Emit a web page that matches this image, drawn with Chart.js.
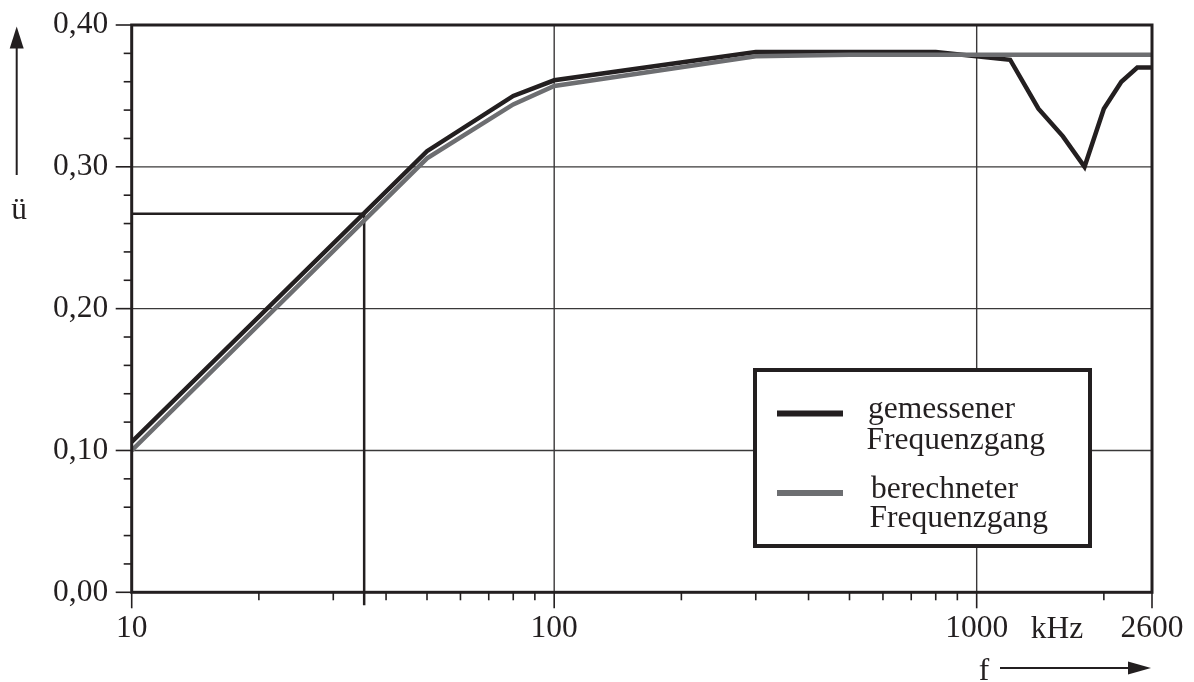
<!DOCTYPE html>
<html>
<head>
<meta charset="utf-8">
<script src="https://cdn.jsdelivr.net/npm/chart.js@4.4.1/dist/chart.umd.min.js"></script>
<style>
  html, body { margin: 0; padding: 0; background: #ffffff; }
  #wrap { width: 1194px; height: 682px; }
</style>
</head>
<body>
<div id="wrap"><canvas id="c" width="1194" height="682"></canvas></div>
<script>
// ---- data ----
const FREQ_MEASURED = [10, 50, 80, 100, 300, 800, 1200, 1400, 1600, 1800, 2000, 2200, 2400, 2600];
const U_MEASURED    = [0.106, 0.311, 0.350, 0.361, 0.381, 0.381, 0.3755, 0.341, 0.3215, 0.300, 0.341, 0.360, 0.370, 0.370];
const FREQ_CALC     = [10, 50, 80, 100, 300, 500, 2600];
const U_CALC        = [0.100, 0.306, 0.344, 0.357, 0.378, 0.379, 0.379];

const LABEL_MEASURED = ['gemessener', 'Frequenzgang'];
const LABEL_CALC     = ['berechneter', 'Frequenzgang'];

// cutoff marker (frequency, ü)
const MARK_F = 35.5;
const MARK_U = 0.267;

// axes
const X_TICK_LABELS = [10, 100, 1000, 2600];
const X_MINOR_TICKS = [20, 30, 40, 50, 60, 70, 80, 90, 200, 300, 400, 500, 600, 700, 800, 900, 2000];
const X_GRID = [100, 1000];
const Y_TICK_LABELS = [0, 0.1, 0.2, 0.3, 0.4];
const Y_MINOR_TICKS = [0.02, 0.04, 0.06, 0.08, 0.12, 0.14, 0.16, 0.18, 0.22, 0.24, 0.26, 0.28, 0.32, 0.34, 0.36, 0.38];
const Y_GRID = [0.1, 0.2, 0.3];
const X_UNIT = 'kHz';
const X_NAME = 'f';
const Y_NAME = 'ü';

// ---- style ----
const INK = '#231f20';
const GREY = '#6d6e71';
const FAMILY = '"Liberation Serif", "Times New Roman", serif';
const FONT = '31.5px ' + FAMILY;

function toPoints(xs, ys) { return xs.map((v, i) => ({ x: v, y: ys[i] })); }

function seg(ctx, x1, y1, x2, y2) { ctx.beginPath(); ctx.moveTo(x1, y1); ctx.lineTo(x2, y2); ctx.stroke(); }

const decor = {
  id: 'decor',
  beforeDatasetsDraw(chart) {
    const { ctx, chartArea: a, scales: { x, y } } = chart;
    ctx.save();
    ctx.strokeStyle = '#3a3839';
    ctx.lineWidth = 1.4;
    X_GRID.forEach(v => { const p = x.getPixelForValue(v); seg(ctx, p, a.top, p, a.bottom); });
    Y_GRID.forEach(v => { const p = y.getPixelForValue(v); seg(ctx, a.left, p, a.right, p); });
    // cutoff marker lines
    ctx.strokeStyle = INK;
    ctx.lineWidth = 2.5;
    const mx = x.getPixelForValue(MARK_F), my = y.getPixelForValue(MARK_U);
    ctx.beginPath();
    ctx.moveTo(a.left, my);
    ctx.lineTo(mx, my);
    ctx.lineTo(mx, a.bottom + 13);
    ctx.stroke();
    ctx.restore();
  },
  afterDatasetsDraw(chart) {
    const { ctx, chartArea: a, scales: { x, y } } = chart;
    ctx.save();
    // frame
    ctx.strokeStyle = INK;
    ctx.lineWidth = 3;
    ctx.strokeRect(a.left, a.top, a.right - a.left, a.bottom - a.top);
    // tick marks
    ctx.lineWidth = 1.6;
    X_TICK_LABELS.forEach(v => { const p = x.getPixelForValue(v); seg(ctx, p, a.bottom, p, a.bottom + 16); });
    X_MINOR_TICKS.forEach(v => { const p = x.getPixelForValue(v); seg(ctx, p, a.bottom, p, a.bottom + 8); });
    Y_TICK_LABELS.forEach(v => { const p = y.getPixelForValue(v); seg(ctx, a.left - 16, p, a.left, p); });
    Y_MINOR_TICKS.forEach(v => { const p = y.getPixelForValue(v); seg(ctx, a.left - 8, p, a.left, p); });

    // unit and axis names
    ctx.fillStyle = INK;
    ctx.font = FONT;
    ctx.textAlign = 'center';
    ctx.textBaseline = 'alphabetic';
    ctx.fillText(X_UNIT, 1057, 638);
    ctx.fillText(X_NAME, 984, 680);
    ctx.fillText(Y_NAME, 19, 219);

    // y arrow
    ctx.lineWidth = 2;
    seg(ctx, 16.7, 175, 16.7, 44);
    ctx.beginPath();
    ctx.moveTo(16.7, 26.5); ctx.lineTo(9.7, 48.5); ctx.lineTo(23.7, 48.5); ctx.closePath(); ctx.fill();
    // x arrow
    seg(ctx, 1000, 668, 1132, 668);
    ctx.beginPath();
    ctx.moveTo(1151, 668); ctx.lineTo(1128, 661.5); ctx.lineTo(1128, 674.5); ctx.closePath(); ctx.fill();

    // legend box
    const ds = chart.data.datasets;
    ctx.fillStyle = '#ffffff';
    ctx.fillRect(755, 370, 335, 176);
    ctx.strokeStyle = INK;
    ctx.lineWidth = 4;
    ctx.strokeRect(755, 370, 335, 176);
    const rows = [
      { d: ds[0], sy: 413.5, tx: 868, b1: 417.5, b2: 448.5 },
      { d: ds[1], sy: 493, tx: 871, b1: 497.5, b2: 527 }
    ];
    ctx.font = FONT;
    ctx.textAlign = 'left';
    rows.forEach(r => {
      ctx.strokeStyle = r.d.borderColor;
      ctx.lineWidth = 6;
      seg(ctx, 777, r.sy, 843, r.sy);
      ctx.fillStyle = INK;
      ctx.fillText(r.d.label[0], r.tx, r.b1);
      ctx.fillText(r.d.label[1], r.tx - 1.5, r.b2);
    });
    ctx.restore();
  }
};

function noPad(s) { s.paddingTop = 0; s.paddingBottom = 0; s.paddingLeft = 0; s.paddingRight = 0; }

new Chart(document.getElementById('c'), {
  type: 'line',
  data: {
    datasets: [
      { label: LABEL_MEASURED, data: toPoints(FREQ_MEASURED, U_MEASURED), borderColor: INK, borderWidth: 4.5,
        pointRadius: 0, tension: 0, order: 1, borderJoinStyle: 'miter' },
      { label: LABEL_CALC, data: toPoints(FREQ_CALC, U_CALC), borderColor: GREY, borderWidth: 4.5,
        pointRadius: 0, tension: 0, order: 0, borderJoinStyle: 'miter' }
    ]
  },
  options: {
    responsive: false,
    animation: false,
    devicePixelRatio: 1,
    layout: { padding: { top: 25, right: 42, left: 0, bottom: 0 } },
    plugins: { legend: { display: false }, tooltip: { enabled: false } },
    scales: {
      x: {
        type: 'logarithmic',
        min: 10, max: 2600,
        grid: { display: false, drawTicks: false },
        border: { display: false },
        afterBuildTicks: s => { s.ticks = X_TICK_LABELS.map(v => ({ value: v })); },
        afterFit: s => { s.height = 89.7; noPad(s); },
        ticks: {
          autoSkip: false, maxRotation: 0, padding: 18,
          color: INK,
          font: { family: FAMILY, size: 31.5 },
          callback: v => String(v)
        }
      },
      y: {
        type: 'linear',
        min: 0, max: 0.4,
        grid: { display: false, drawTicks: false },
        border: { display: false },
        afterBuildTicks: s => { s.ticks = Y_TICK_LABELS.map(v => ({ value: v })); },
        afterFit: s => { s.width = 131.7; noPad(s); },
        ticks: {
          padding: 23.5,
          color: INK,
          font: { family: FAMILY, size: 31.5 },
          callback: v => Number(v).toFixed(2).replace('.', ',')
        }
      }
    }
  },
  plugins: [decor]
});
</script>
</body>
</html>
